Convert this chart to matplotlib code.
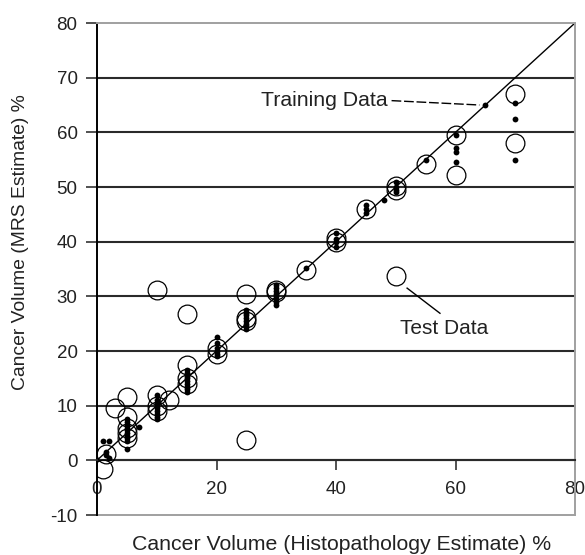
import matplotlib
matplotlib.use("Agg")
import matplotlib.pyplot as plt

plt.rcParams['font.family'] = ['Liberation Sans', 'DejaVu Sans']
plt.rcParams['axes.unicode_minus'] = False

# Training data (small dots)
train_x = [1, 2, 1.5, 1.5, 2,
           5, 5, 5, 5, 5, 5, 5, 5, 5, 5,
           7,
           10, 10, 10, 10, 10, 10, 10, 10, 10,
           15, 15, 15, 15, 15, 15, 15, 15, 15,
           20, 20, 20, 20, 20, 20,
           25, 25, 25, 25, 25, 25, 25, 25,
           30, 30, 30, 30, 30, 30, 30, 30,
           35,
           40, 40, 40, 40,
           45, 45, 45,
           48,
           50, 50, 50, 50,
           55,
           60, 60, 60, 60,
           65,
           70, 70, 70]
train_y = [3.5, 3.5, 1.5, 1.0, 0.5,
           7.5, 7, 6.5, 6, 5.5, 5, 4.5, 4, 3.5, 2,
           6.1,
           12, 11, 10.5, 10, 9.5, 9, 8.5, 8, 7.5,
           16.5, 16, 15.5, 15, 14.5, 14, 13.5, 13, 12.5,
           22.5, 21.5, 20.5, 20, 19.5, 19,
           27.5, 27, 26.5, 26, 25.5, 25, 24.5, 24,
           32, 31.5, 31, 30.5, 30, 29.5, 29, 28.5,
           35.2,
           41.5, 40.5, 40, 39,
           46.7, 46, 45.2,
           47.6,
           51, 50, 49.5, 49,
           54.9,
           59.5, 57.1, 56.4, 54.5,
           65,
           65.3, 62.4, 54.9]

# Test data (open circles)
test_x = [1, 1.5, 3, 5, 5, 5, 5, 5,
          10, 10, 10, 10, 12,
          15, 15, 15, 15,
          20, 20,
          25, 25, 25, 25,
          30, 30, 35, 40, 40, 45,
          50, 50, 50, 55, 60, 60, 70, 70]
test_y = [-1.5, 1.2, 9.5, 11.6, 7.9, 6, 5, 4,
          31.2, 11.9, 10, 9, 11,
          26.7, 17.4, 15, 14,
          20.5, 19.5,
          30.4, 26, 25.5, 3.8,
          31.2, 30.8, 34.8, 40.7, 40, 46,
          50.2, 49.4, 33.8, 54.2, 59.5, 52.2, 67.1, 58.1]

x_ticks = [0, 20, 40, 60, 80]
y_ticks = [-10, 0, 10, 20, 30, 40, 50, 60, 70, 80]
grid_levels = [0, 10, 20, 30, 40, 50, 60, 70]

W, H = 585, 555
fig = plt.figure(figsize=(W/100, H/100), dpi=100)
ax = fig.add_axes([97/W, 1 - 515/H, (575-97)/W, (515-23)/H])
ax.set_xlim(0, 80)
ax.set_ylim(-10, 80)

text_color = '#222222'
for g in grid_levels:
    ax.axhline(g, color='#2a2a2a', lw=1.5, zorder=1)

ax.plot([0, 80], [0, 80], color='black', lw=1.0, zorder=2)

ax.plot(train_x, train_y, 'o', color='black', ms=4.2, mew=0, zorder=3)
ax.plot(test_x, test_y, 'o', mfc='none', mec='black', ms=13.5, mew=0.9, zorder=4)

# spines
ax.spines['left'].set_color('black')
ax.spines['left'].set_linewidth(1.4)
for s in ['top', 'right']:
    ax.spines[s].set_color('#a0a0a0')
    ax.spines[s].set_linewidth(1.4)
ax.spines['bottom'].set_position(('data', 0))
ax.spines['bottom'].set_color('#2a2a2a')
ax.spines['bottom'].set_linewidth(1.5)
ax.axhline(-10, color='#a0a0a0', lw=1.4, clip_on=False, zorder=1)

ax.set_xticks(x_ticks)
ax.set_yticks(y_ticks)
ax.tick_params(axis='x', direction='out', length=7, width=1.2, color='#333333',
               labelsize=13.5, labelcolor=text_color, pad=8)
ax.tick_params(axis='y', direction='out', length=8, width=1.2, color='#333333',
               labelsize=13.5, labelcolor=text_color, pad=6)

fig.text(342/W, 1 - 545/H, 'Cancer Volume (Histopathology Estimate) %',
         fontsize=15.3, color=text_color, ha='center', va='center')
fig.text(21/W, 1 - 242/H, 'Cancer Volume (MRS Estimate) %',
         fontsize=13.9, color=text_color, ha='center', va='center', rotation=90)

# annotations
ax.text(48.6, 65.8, 'Training Data', fontsize=15.3, color=text_color,
        ha='right', va='center')
ax.plot([49.3, 64.0], [65.8, 65.0], color='black', lw=1.0,
        linestyle=(0, (7, 2)), zorder=3)
ax.text(58.1, 24.2, 'Test Data', fontsize=15, color=text_color,
        ha='center', va='center')
ax.plot([51.9, 57.4], [31.5, 26.9], color='black', lw=1.0, zorder=3)

fig.savefig('out.png', dpi=100)
